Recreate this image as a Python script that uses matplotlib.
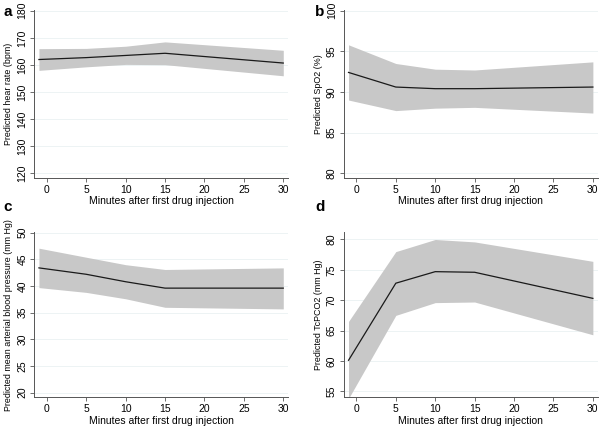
import matplotlib
matplotlib.use('Agg')
import matplotlib.pyplot as plt

# minutes after first drug injection (baseline plotted at -1)
minutes = [-1, 5, 10, 15, 30]

# a: heart rate
hr_mean = [162.0, 162.7, 163.5, 164.3, 160.7]
hr_lo = [158.0, 159.3, 160.2, 160.1, 156.0]
hr_hi = [166.0, 166.1, 166.9, 168.5, 165.4]

# b: SpO2
spo2_mean = [92.4, 90.6, 90.4, 90.4, 90.6]
spo2_lo = [89.0, 87.7, 88.0, 88.1, 87.4]
spo2_hi = [95.8, 93.5, 92.8, 92.7, 93.7]

# c: mean arterial blood pressure
map_mean = [43.4, 42.2, 40.8, 39.6, 39.6]
map_lo = [39.7, 38.8, 37.6, 36.0, 35.7]
map_hi = [47.1, 45.4, 44.0, 43.1, 43.4]

# d: TcPCO2
tc_mean = [60.1, 72.8, 74.7, 74.6, 70.3]
tc_lo = [53.8, 67.5, 69.6, 69.7, 64.3]
tc_hi = [66.5, 78.0, 80.0, 79.6, 76.4]

xticks = [0, 5, 10, 15, 20, 25, 30]

panels = [
    ('a', hr_mean, hr_lo, hr_hi, 'Predicted hear rate (bpm)', [120, 130, 140, 150, 160, 170, 180], (118.3, 180.3)),
    ('b', spo2_mean, spo2_lo, spo2_hi, 'Predicted SpO2 (%)', [80, 85, 90, 95, 100], (79.4, 100.1)),
    ('c', map_mean, map_lo, map_hi, 'Predicted mean arterial blood pressure (mm Hg)', [20, 25, 30, 35, 40, 45, 50], (19.1, 50.1)),
    ('d', tc_mean, tc_lo, tc_hi, 'Predicted TcPCO2 (mm Hg)', [55, 60, 65, 70, 75, 80], (54.0, 81.2)),
]

pos = [
    [0.057, 0.586, 0.423, 0.391],
    [0.573, 0.586, 0.423, 0.391],
    [0.057, 0.076, 0.423, 0.384],
    [0.573, 0.076, 0.423, 0.384],
]
letter_pos = [(0.005, 0.988), (0.525, 0.988), (0.005, 0.536), (0.525, 0.536)]

plt.rcParams['font.family'] = ['Liberation Sans', 'DejaVu Sans']

fig = plt.figure(figsize=(6, 4.3), dpi=100)

for (letter, mean, lo, hi, ylabel, yticks, ylim), p, lp in zip(panels, pos, letter_pos):
    ax = fig.add_axes(p)
    ax.fill_between(minutes, lo, hi, color='#c8c8c8', linewidth=0)
    ax.plot(minutes, mean, color='#1a1a1a', linewidth=0.9)
    ax.set_xlim(-1.6, 30.6)
    ax.set_ylim(*ylim)
    ax.set_xticks(xticks)
    ax.set_yticks(yticks)
    for t in yticks:
        ax.axhline(t, color='#eaf1f2', linewidth=0.6, zorder=0)
    ax.spines['top'].set_visible(False)
    ax.spines['right'].set_visible(False)
    for s in ['left', 'bottom']:
        ax.spines[s].set_color('#555555')
        ax.spines[s].set_linewidth(0.7)
    ax.tick_params(direction='out', length=3, width=0.6, color='#555555', labelsize=7.5, pad=2)
    for lab in ax.get_yticklabels():
        lab.set_rotation(90)
        lab.set_va('center')
    ax.set_xlabel('Minutes after first drug injection', fontsize=7.5, labelpad=1)
    ax.set_ylabel(ylabel, fontsize=6.4, labelpad=3)
    fig.text(lp[0], lp[1], letter, fontsize=11, fontweight='bold', va='top', ha='left')

fig.savefig('out.png', dpi=100)
